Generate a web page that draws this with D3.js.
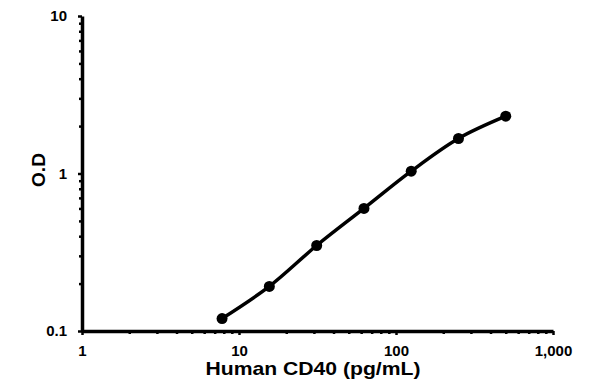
<!DOCTYPE html>
<html>
<head>
<meta charset="utf-8">
<script src="https://cdn.jsdelivr.net/npm/d3@7"></script>
<style>
  body { margin: 0; background: #fff; }
  svg { display: block; font-family: Arial, "Liberation Sans", sans-serif; }
  .tick text { font-weight: bold; font-size: 15px; fill: #000; }
  .domain { stroke: #000; stroke-width: 3.5px; }
  .tick line { stroke: #000; stroke-width: 2.5px; }
</style>
</head>
<body>
<svg id="chart" width="596" height="391"></svg>
<script>
// standard curve: concentration vs optical density
const concentrations = [7.8, 15.6, 31.25, 62.5, 125, 250, 500];
const odValues = [0.12, 0.192, 0.349, 0.60, 1.034, 1.668, 2.31];
const xMajor = [1, 10, 100, 1000];
const yMajor = [0.1, 1, 10];

const svg = d3.select('#chart');
const plotLeft = 82, plotRight = 553, plotTop = 16, plotBottom = 331;

const x = d3.scaleLog().domain([1, 1000]).range([plotLeft, plotRight]);
const y = d3.scaleLog().domain([0.1, 10]).range([plotBottom, plotTop]);

// minor ticks 2..9 in each decade
const minorTicks = (majors) => {
    const out = [];
    for (let i = 0; i < majors.length - 1; i++) {
        for (let k = 2; k <= 9; k++) out.push(majors[i] * k);
    }
    return out;
};

svg.append('g')
    .attr('transform', `translate(0,${plotBottom})`)
    .call(d3.axisBottom(x).tickValues(minorTicks(xMajor)).tickSize(3).tickFormat(''))
    .call(g => g.select('.domain').remove());

svg.append('g')
    .attr('transform', `translate(${plotLeft},0)`)
    .call(d3.axisLeft(y).tickValues(minorTicks(yMajor)).tickSize(3).tickFormat(''))
    .call(g => g.select('.domain').remove());

svg.append('g')
    .attr('transform', `translate(0,${plotBottom})`)
    .call(d3.axisBottom(x).tickValues(xMajor).tickSize(4).tickSizeOuter(0).tickPadding(10).tickFormat(d3.format(',')));

svg.append('g')
    .attr('transform', `translate(${plotLeft},0)`)
    .call(d3.axisLeft(y).tickValues(yMajor).tickSize(4).tickSizeOuter(0).tickPadding(11).tickFormat(d => String(d)));

const pts = concentrations.map((c, i) => [c, odValues[i]]);

svg.append('path')
    .datum(pts)
    .attr('fill', 'none')
    .attr('stroke', '#000')
    .attr('stroke-width', 3.5)
    .attr('d', d3.line().x(d => x(d[0])).y(d => y(d[1])).curve(d3.curveCatmullRom.alpha(0.5)));

svg.selectAll('circle.pt')
    .data(pts)
    .join('circle')
    .attr('class', 'pt')
    .attr('cx', d => x(d[0]))
    .attr('cy', d => y(d[1]))
    .attr('r', 5.5)
    .attr('fill', '#000');

svg.append('text')
    .attr('x', (plotLeft + plotRight) / 2 - 4.5)
    .attr('y', 375)
    .attr('text-anchor', 'middle')
    .attr('font-weight', 'bold')
    .attr('font-size', 19)
    .attr('textLength', 215)
    .attr('lengthAdjust', 'spacingAndGlyphs')
    .text('Human CD40 (pg/mL)');

svg.append('text')
    .attr('transform', 'translate(45,170) rotate(-90)')
    .attr('text-anchor', 'middle')
    .attr('font-weight', 'bold')
    .attr('font-size', 19)
    .attr('textLength', 34)
    .attr('lengthAdjust', 'spacingAndGlyphs')
    .text('O.D');
</script>
</body>
</html>
